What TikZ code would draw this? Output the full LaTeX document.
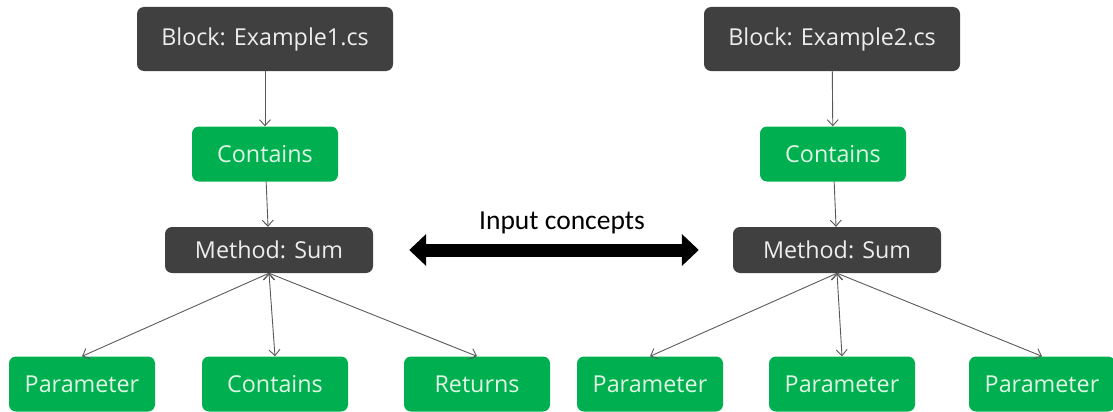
\documentclass[tikz,border=0pt]{standalone}
\usepackage{fontspec}
\setmainfont{Open Sans}
\newfontfamily\calibrifont{Carlito}
\usetikzlibrary{arrows.meta}

\definecolor{blockgray}{HTML}{404040}
\definecolor{conceptgreen}{HTML}{00B050}
\definecolor{edgegray}{HTML}{595959}
\definecolor{blocktext}{HTML}{EDEDED}
\definecolor{concepttext}{HTML}{E0F6E4}

\begin{document}
\begin{tikzpicture}[x=1pt,y=-1pt,>={Straight Barb[length=6pt,width=11pt]}]
        \tikzstyle{block}=[rectangle,rounded corners=7pt,fill=blockgray,text=blocktext,inner sep=0pt,font=\fontsize{23.3}{27}\selectfont,minimum width=256pt,minimum height=64pt]
        \tikzstyle{method}=[block,minimum width=208pt,minimum height=46pt]
        \tikzstyle{concept}=[rectangle,rounded corners=7pt,fill=conceptgreen,text=concepttext,inner sep=0pt,font=\fontsize{23.3}{27}\selectfont,minimum width=146pt,minimum height=55pt]
        \tikzstyle{edge}=[draw=edgegray,line width=0.9pt,->]
        \tikzstyle{bigarrow}=[draw=black,line width=13pt,{Triangle[length=17pt,width=31pt]}-{Triangle[length=17pt,width=31pt]}]

        \useasboundingbox (0,0) rectangle (1113,412);

        % first file
        \begin{scope}
                \node [block] (b1) at (265,39) {Block: Example1.cs};
                \node [concept] (c1) at (265,154) {Contains};
                \node [method] (m1) at (269,250) {Method: Sum};
                \node [concept] (p1) at (82,384) {Parameter};
                \node [concept] (k1) at (275,384) {Contains};
                \node [concept] (r1) at (477,384) {Returns};

                \path[edge] (b1) edge (c1);
                \path[edge] (c1) edge (m1);
                \path[edge] (m1.south) edge (p1.north);
                \path[edge] (m1.south) edge (k1.north);
                \path[edge] (m1.south) edge (r1.north);
        \end{scope}

        % second file
        \begin{scope}
                \node [block] (b2) at (832,39) {Block: Example2.cs};
                \node [concept] (c2) at (833,154) {Contains};
                \node [method] (m2) at (837,250) {Method: Sum};
                \node [concept] (p2) at (650,384) {Parameter};
                \node [concept] (q2) at (842,384) {Parameter};
                \node [concept] (s2) at (1042,384) {Parameter};

                \path[edge] (b2) edge (c2);
                \path[edge] (c2) edge (m2);
                \path[edge] (m2.south) edge (p2.north);
                \path[edge] (m2.south) edge (q2.north);
                \path[edge] (m2.south) edge (s2.north);
        \end{scope}

        % link between the two
        \draw[bigarrow,shorten <=36pt,shorten >=34pt] (m1.east) -- (m2.west);
        \node [font=\calibrifont\fontsize{27.5}{30}\selectfont] (input) at (562,223) {Input concepts};
\end{tikzpicture}
\end{document}
